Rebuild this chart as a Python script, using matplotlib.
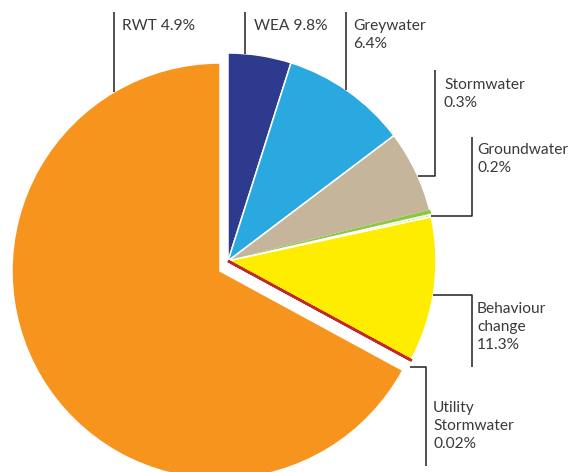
import numpy as np
import matplotlib.pyplot as plt

# shares of the water supply mix, clockwise from the top
sources = ['RWT', 'WEA', 'Greywater', 'Stormwater', 'Groundwater',
           'Behaviour change', 'Utility Stormwater', 'Mains']
shares = [4.9, 9.8, 6.4, 0.3, 0.2, 11.3, 0.02]
shares = shares + [100 - sum(shares)]
colors = ['#2e3a8e', '#29a9e0', '#c4b59b', '#8dc63f', '#d9e8b0',
          '#ffed00', '#c1272d', '#f7941e']
label_text = ['RWT 4.9%', 'WEA 9.8%', 'Greywater\n6.4%', 'Stormwater\n0.3%',
              'Groundwater\n0.2%', 'Behaviour\nchange\n11.3%',
              'Utility\nStormwater\n0.02%']

plt.rcParams['font.family'] = ['Lato', 'DejaVu Sans']

fig = plt.figure(figsize=(5.82, 4.72), dpi=100)
ax = fig.add_axes([0, 0, 1, 1])

cx, cy, R = 228, 261, 208
wedges, _ = ax.pie(shares, colors=colors, radius=R, center=(cx, cy),
                   startangle=-90, counterclock=True,
                   wedgeprops=dict(edgecolor='white', linewidth=1.1))
# pull the big slice out a little
ocx, ocy = cx - 8, cy + 10
wedges[-1].set_center((ocx, ocy))
wedges[3].set_edgecolor('#8dc63f')
wedges[3].set_linewidth(1.0)
wedges[6].set_edgecolor('#c1272d')
wedges[6].set_linewidth(1.8)

ax.set_xlim(0, 582)
ax.set_ylim(472, 0)
ax.set_aspect('equal')
ax.axis('off')

line_kw = dict(color='#231f20', lw=1.1, solid_capstyle='butt')
txt_kw = dict(fontsize=11.2, color='#3a3a3a', va='top', linespacing=1.35)


def top_y(x, c=(cx, cy)):
    return c[1] - np.sqrt(R**2 - (x - c[0])**2)


def right_x(y):
    return cx + np.sqrt(R**2 - (y - cy)**2)


# vertical leaders from the top
for x, tx, txt, c in [(114, 122, label_text[0], (ocx, ocy)),
                      (245, 254, label_text[1], (cx, cy)),
                      (346, 353, label_text[2], (cx, cy))]:
    ax.plot([x, x], [12, top_y(x, c)], **line_kw)
    ax.text(tx, 19, txt, **txt_kw)

# elbow leaders on the right
for y, x, y0, tx, ty, txt in [(176, 435, 70, 444, 78, label_text[3]),
                              (216, 472, 137, 477, 143, label_text[4])]:
    ax.plot([right_x(y), x, x], [y, y, y0], **line_kw)
    ax.text(tx, ty, txt, **txt_kw)

ax.plot([right_x(295), 472, 472], [295, 295, 367], **line_kw)
ax.text(477, 302, label_text[5], **txt_kw)

ax.plot([410, 426, 426], [367, 367, 466], **line_kw)
ax.text(433, 401, label_text[6], **txt_kw)

fig.savefig('out.png', dpi=100)
